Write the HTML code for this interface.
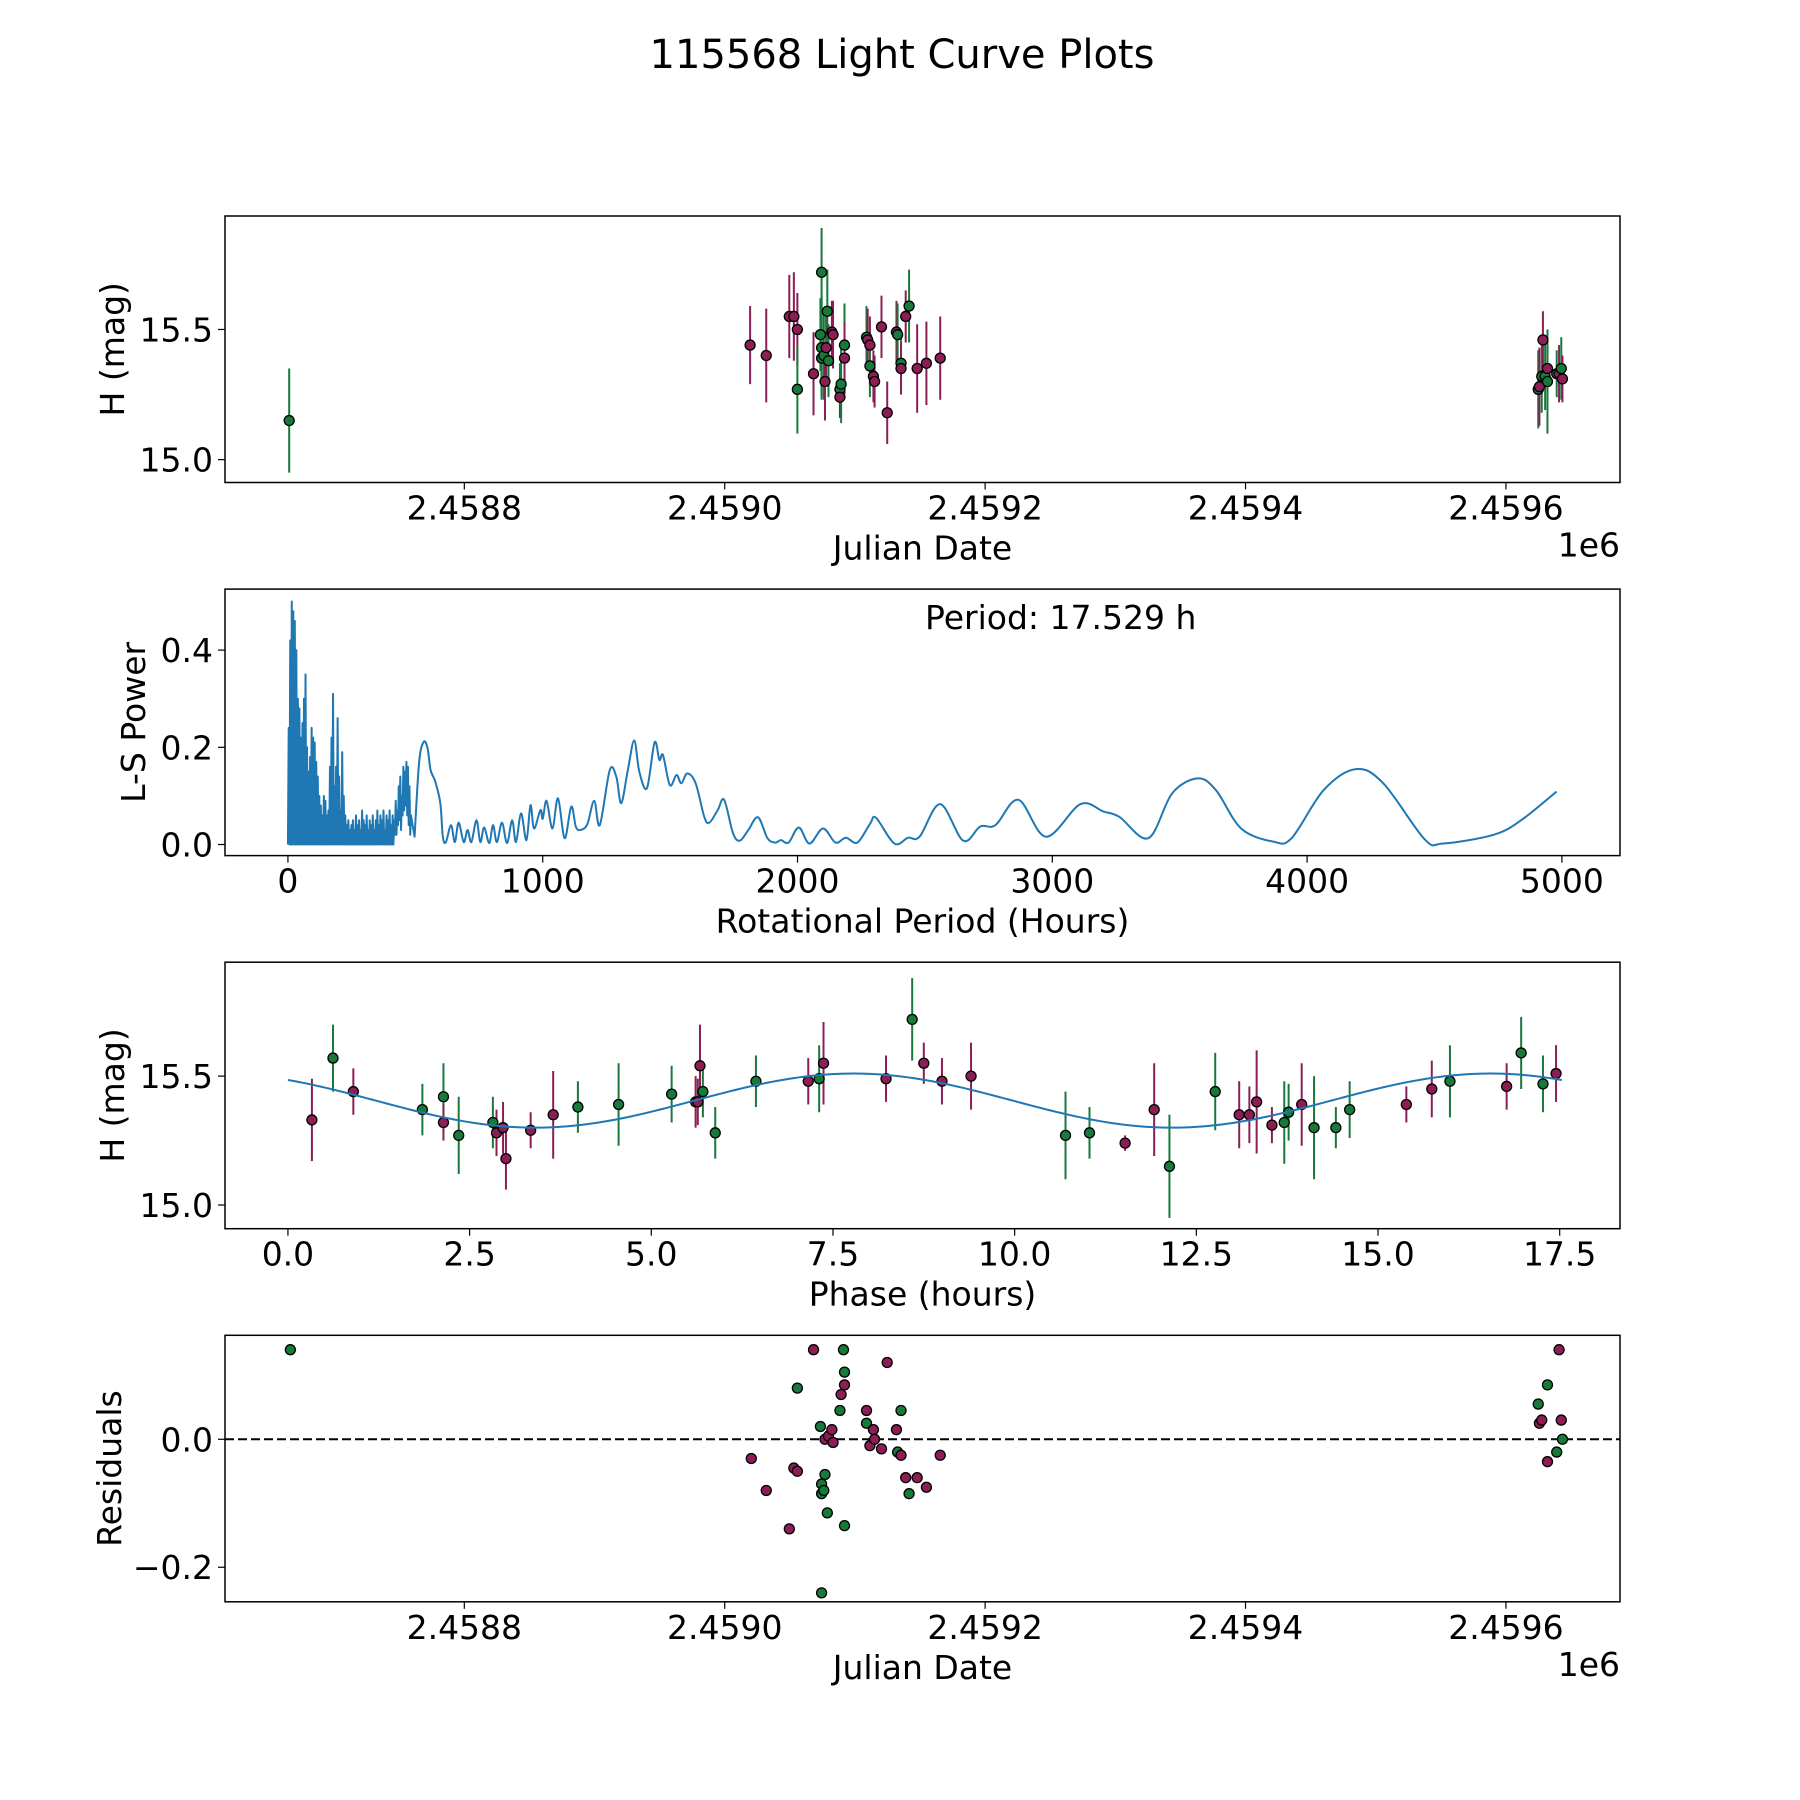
<!DOCTYPE html>
<html><head><meta charset="utf-8"><style>
html,body{margin:0;padding:0;background:#fff;}
svg{display:block;font-family:"DejaVu Sans","Liberation Sans",sans-serif;}
</style></head><body>
<svg id="fig" width="1800" height="1800" viewBox="0 0 1800 1800" xmlns="http://www.w3.org/2000/svg">
<rect width="1800" height="1800" fill="#fff"/>
<text x="902" y="68" font-size="40" text-anchor="middle">115568 Light Curve Plots</text>
</svg>
<script>
// ---------- DATA ----------
// Panel 1: observations (JD - 2458000)
const obsJD = [665.5,1019.5,1031.9,1049.6,1053.1,1055.8,1055.8,1068.2,1073.5,1074.4,1074.4,1074.4,1076.1,1077,1077.9,1078.8,1079.7,1082.3,1083.2,1088.5,1088.5,1089.4,1092,1092,1108.9,1109.8,1111.5,1111.5,1114.2,1115.1,1120.4,1124.8,1131.9,1132.8,1135.4,1135.4,1139,1141.6,1147.8,1154.9,1165.5,1624.8,1625.7,1627.5,1628.4,1630.1,1631.9,1631.9,1639,1640.8,1642.5,1643.4];
const obsMag = [15.15,15.44,15.40,15.55,15.55,15.50,15.27,15.33,15.48,15.72,15.43,15.39,15.40,15.30,15.43,15.57,15.38,15.49,15.48,15.27,15.24,15.29,15.44,15.39,15.47,15.46,15.44,15.36,15.32,15.30,15.51,15.18,15.49,15.48,15.37,15.35,15.55,15.59,15.35,15.37,15.39,15.27,15.28,15.32,15.46,15.32,15.35,15.30,15.33,15.33,15.35,15.31];
const obsErr = [0.2,0.15,0.18,0.16,0.17,0.14,0.17,0.16,0.14,0.17,0.2,0.15,0.17,0.15,0.13,0.16,0.14,0.12,0.13,0.1,0.08,0.15,0.16,0.14,0.12,0.12,0.11,0.12,0.1,0.1,0.12,0.12,0.12,0.12,0.1,0.1,0.1,0.14,0.17,0.16,0.16,0.15,0.15,0.14,0.11,0.13,0.12,0.2,0.09,0.11,0.12,0.09];
const obsBand = ["g","m","m","m","m","m","g","m","g","g","g","g","g","m","m","g","g","m","m","g","m","g","g","m","g","m","m","g","m","m","m","m","m","g","g","m","m","g","m","m","m","g","m","g","m","g","m","g","g","m","g","m"];

// Panel 2: periodogram
const denseStep = 6;
const denseHigh = [0.24,0.42,0.50,0.48,0.46,0.40,0.30,0.28,0.22,0.25,0.30,0.35,0.20,0.15,0.18,0.24,0.22,0.21,0.17,0.14,0.10,0.08,0.06,0.10,0.09,0.06,0.07,0.16,0.22,0.31,0.12,0.16,0.26,0.14,0.07,0.19,0.10,0.06,0.04,0.05,0.03,0.04,0.05,0.03,0.06,0.04,0.05,0.03,0.07,0.05,0.04,0.06,0.03,0.05,0.04,0.06,0.03,0.05,0.07,0.04,0.06,0.05,0.07,0.03,0.06,0.05,0.07,0.04,0.06,0.05,0.09,0.07,0.12,0.14,0.10,0.16,0.15,0.17,0.16,0.12,0.06];
const densePeriodLow = [0,0,0,0,0,0,0,0,0,0,0,0,0,0,0,0,0,0,0,0,0,0,0,0,0,0,0,0,0,0,0,0,0,0,0,0,0,0,0,0,0,0,0,0,0,0,0,0,0,0,0,0,0,0,0,0,0,0,0,0,0,0,0,0,0,0,0,0,0,0,0.02,0.02,0.04,0.05,0.03,0.06,0.07,0.08,0.06,0.04,0.02];
const smoothPeriod = [497,515,533,548,560,578,598,608,620,640,655,670,690,705,720,740,755,770,790,805,820,840,860,880,895,915,936,952,966,991,1000,1015,1038,1060,1086,1112,1131,1154,1176,1202,1224,1263,1289,1308,1334,1359,1379,1409,1439,1458,1472,1499,1525,1544,1567,1600,1634,1654,1687,1712,1747,1774,1807,1845,1882,1912,1935,1965,2005,2047,2100,2149,2190,2235,2285,2308,2380,2434,2479,2560,2650,2717,2777,2867,2975,3110,3200,3263,3377,3470,3570,3642,3741,3867,3939,4065,4191,4299,4461,4533,4732,4840,4979];
const smoothPower = [0.016,0.17,0.211,0.198,0.153,0.13,0.085,0.016,0.005,0.04,0.005,0.045,0.005,0.03,0.005,0.05,0.005,0.035,0.003,0.04,0.005,0.045,0.003,0.05,0.005,0.064,0.009,0.081,0.033,0.071,0.053,0.09,0.033,0.095,0.013,0.078,0.035,0.031,0.043,0.09,0.04,0.153,0.139,0.085,0.153,0.214,0.15,0.116,0.21,0.174,0.184,0.122,0.143,0.126,0.146,0.126,0.057,0.045,0.071,0.092,0.023,0.008,0.03,0.056,0.013,0.004,0.009,0.004,0.035,0.002,0.033,0.004,0.014,0.004,0.043,0.055,0.002,0.014,0.016,0.083,0.008,0.037,0.04,0.092,0.016,0.083,0.068,0.057,0.013,0.105,0.136,0.112,0.033,0.006,0.013,0.112,0.155,0.126,0.011,0.002,0.02,0.05,0.109];

// Panel 3: phased
const phaseVal = [0.33,0.62,0.9,1.85,2.14,2.14,2.35,2.82,2.87,2.96,3.0,3.34,3.65,3.99,4.55,5.28,5.61,5.64,5.67,5.71,5.88,6.44,7.16,7.31,7.37,8.23,8.59,8.75,9.0,9.4,10.7,11.03,11.52,11.92,12.13,12.76,13.09,13.23,13.33,13.54,13.71,13.77,13.95,14.12,14.42,14.61,15.39,15.74,15.99,16.77,16.97,17.27,17.45];
const phaseMag = [15.33,15.57,15.44,15.37,15.42,15.32,15.27,15.32,15.28,15.30,15.18,15.29,15.35,15.38,15.39,15.43,15.40,15.40,15.54,15.44,15.28,15.48,15.48,15.49,15.55,15.49,15.72,15.55,15.48,15.50,15.27,15.28,15.24,15.37,15.15,15.44,15.35,15.35,15.40,15.31,15.32,15.36,15.39,15.30,15.30,15.37,15.39,15.45,15.48,15.46,15.59,15.47,15.51];
const phaseErr = [0.16,0.13,0.09,0.1,0.13,0.07,0.15,0.1,0.09,0.1,0.12,0.07,0.17,0.1,0.16,0.11,0.1,0.09,0.16,0.1,0.1,0.1,0.09,0.13,0.16,0.09,0.16,0.08,0.09,0.13,0.17,0.1,0.03,0.18,0.2,0.15,0.13,0.11,0.2,0.07,0.16,0.11,0.16,0.2,0.08,0.11,0.07,0.11,0.14,0.09,0.14,0.11,0.11];
const phaseBand = ["m","g","m","g","g","m","g","g","m","m","m","m","m","g","g","g","m","m","m","g","g","g","m","g","m","m","g","m","m","m","g","g","m","m","g","g","m","m","m","m","g","g","m","g","g","g","m","m","g","m","g","g","m"];
const fitParams = [15.405, 0.105, 3.4, 8.7645]; // mean, amplitude, min phase, half period
const periodHours = [17.529];

// Panel 4: residuals
const resJD = [666.4,1020.4,1031.9,1049.6,1053.1,1055.8,1055.8,1068.2,1073.5,1074.4,1074.4,1074.4,1076.1,1077,1077,1078.8,1079.7,1082.3,1083.2,1088.5,1089.4,1091.2,1092,1092,1092,1108.9,1108.9,1111.5,1114.2,1115.1,1120.4,1124.8,1131.9,1132.8,1135.4,1135.4,1139,1141.6,1147.8,1154.9,1165.5,1624.8,1625.7,1627.5,1631.9,1631.9,1639,1640.8,1642.5,1643.4];
const resVal = [0.14,-0.03,-0.08,-0.14,-0.045,-0.05,0.08,0.14,0.02,-0.24,-0.07,-0.085,-0.08,-0.055,0.0,-0.115,0.005,0.015,-0.005,0.045,0.07,0.14,0.105,0.085,-0.135,0.045,0.025,-0.01,0.015,0.0,-0.015,0.12,0.015,-0.02,0.045,-0.025,-0.06,-0.085,-0.06,-0.075,-0.025,0.055,0.025,0.03,0.085,-0.035,-0.02,0.14,0.03,0.0];
const resBand = ["g","m","m","m","m","m","g","m","g","g","g","g","g","g","m","g","m","m","m","g","m","g","g","m","g","m","g","m","m","m","m","m","m","g","g","m","m","g","m","m","m","g","m","m","g","m","g","m","m","g"];

const jdTicks = [800,1000,1200,1400,1600];
const jdTickLabels = ["2.4588","2.4590","2.4592","2.4594","2.4596"];
const magTicks = [15.0,15.5];
const magTickLabels = ["15.0","15.5"];
const perTicks = [0,1000,2000,3000,4000,5000];
const perTickLabels = ["0","1000","2000","3000","4000","5000"];
const powTicks = [0,0.2,0.4];
const powTickLabels = ["0.0","0.2","0.4"];
const phTicks = [0,2.5,5,7.5,10,12.5,15,17.5];
const phTickLabels = ["0.0","2.5","5.0","7.5","10.0","12.5","15.0","17.5"];
const resTicks = [-0.2,0.0];
const resTickLabels = ["\u22120.2","0.0"];

// ---------- DRAW ----------
const NS="http://www.w3.org/2000/svg";
const fig=document.getElementById('fig');
const COL={g:"#177a3b",m:"#8b1e55"};
const L=225,R=1620;
const rows=[[216,482.5],[589.1,855.6],[962.2,1228.7],[1335.3,1601.8]];
function mk(tag,attrs,parent){const e=document.createElementNS(NS,tag);for(const k in attrs)e.setAttribute(k,attrs[k]);(parent||fig).appendChild(e);return e;}
function lin(d0,d1,p0,p1){return v=>p0+(v-d0)/(d1-d0)*(p1-p0);}

function axesFrame(i,name,xs,ys,xt,xtl,yt,ytl,xlabel,ylabel,ylabX,offsetText){
  const [T,B]=rows[i];
  const g=mk('g',{});
  
  
  xt.forEach((v,k)=>{const x=xs(v);
    const t=mk('line',{x1:x,x2:x,y1:B,y2:B+7,stroke:'#000','stroke-width':1.2},g);
    
    const tx=mk('text',{x:x,y:B+37,'font-size':33,'text-anchor':'middle'},g);tx.textContent=xtl[k];
    });
  yt.forEach((v,k)=>{const y=ys(v);
    const t=mk('line',{x1:L-7,x2:L,y1:y,y2:y,stroke:'#000','stroke-width':1.2},g);
    
    const tx=mk('text',{x:L-12,y:y+12,'font-size':33,'text-anchor':'end'},g);tx.textContent=ytl[k];
    });
  const xl=mk('text',{x:(L+R)/2,y:B+77,'font-size':33,'text-anchor':'middle'},g);xl.textContent=xlabel;
  
  const yc=(T+B)/2;
  const yl=mk('text',{x:ylabX,y:yc,'font-size':33,'text-anchor':'middle',transform:`rotate(-90 ${ylabX} ${yc})`},g);yl.textContent=ylabel;
  
  if(offsetText){const o=mk('text',{x:R,y:B+74,'font-size':33,'text-anchor':'end'},g);o.textContent=offsetText;
    }
  return g;
}
function border(i){const [T,B]=rows[i];const r=mk('rect',{x:L,y:T,width:R-L,height:B-T,fill:'none',stroke:'#000','stroke-width':1.5});
  }
function clip(i,id){const [T,B]=rows[i];const c=mk('clipPath',{id:id});mk('rect',{x:L,y:T,width:R-L,height:B-T},c);}

function errPoints(g,xs,ys,xv,yv,ev,bv){
  xv.forEach((v,k)=>{const x=xs(v);
    const e=mk('line',{x1:x,x2:x,y1:ys(yv[k]-ev[k]),y2:ys(yv[k]+ev[k]),stroke:COL[bv[k]],'stroke-width':2},g);
    });
  xv.forEach((v,k)=>{
    const c=mk('circle',{cx:xs(v),cy:ys(yv[k]),r:5,fill:COL[bv[k]],stroke:'#000','stroke-width':1.3},g);
    });
}

// Panel 1
const xJD=lin(616.2,1687.6,L,R);
const yMag1=lin(14.912,15.936,rows[0][1],rows[0][0]);
clip(0,'c0');
axesFrame(0,'light-curve-axes',xJD,yMag1,jdTicks,jdTickLabels,magTicks,magTickLabels,'Julian Date','H (mag)',124,'1e6');
const g1=mk('g',{'clip-path':'url(#c0)'});

errPoints(g1,xJD,yMag1,obsJD,obsMag,obsErr,obsBand);
border(0);

// Panel 2
const xPer=lin(-247,5228,L,R);
const yPow=lin(-0.0228,0.5255,rows[1][1],rows[1][0]);
clip(1,'c1');
axesFrame(1,'periodogram-axes',xPer,yPow,perTicks,perTickLabels,powTicks,powTickLabels,'Rotational Period (Hours)','L-S Power',145,null);
let d='';
denseHigh.forEach((h,k)=>{const p=k*denseStep;
  d+=(k?'L':'M')+xPer(p).toFixed(2)+','+yPow(densePeriodLow[k]).toFixed(2);
  d+='L'+xPer(p+denseStep/2).toFixed(2)+','+yPow(h).toFixed(2);});
const sp=smoothPeriod.map((p,k)=>[xPer(p),yPow(smoothPower[k])]);
for(let k=0;k<sp.length;k++){
  if(k===0){d+='L'+sp[0][0].toFixed(2)+','+sp[0][1].toFixed(2);continue;}
  const p0=sp[Math.max(k-2,0)],p1=sp[k-1],p2=sp[k],p3=sp[Math.min(k+1,sp.length-1)];
  const c1=[p1[0]+(p2[0]-p0[0])/6,p1[1]+(p2[1]-p0[1])/6],c2=[p2[0]-(p3[0]-p1[0])/6,p2[1]-(p3[1]-p1[1])/6];
  d+=`C${c1[0].toFixed(2)},${c1[1].toFixed(2)} ${c2[0].toFixed(2)},${c2[1].toFixed(2)} ${p2[0].toFixed(2)},${p2[1].toFixed(2)}`;
}
const pl=mk('path',{d:d,fill:'none',stroke:'#1f77b4','stroke-width':2,'stroke-linejoin':'round','clip-path':'url(#c1)'});

const pt=mk('text',{x:925,y:629,'font-size':33});pt.textContent='Period: '+periodHours[0].toFixed(3)+' h';

border(1);

// Panel 3
const xPh=lin(-0.866,18.33,L,R);
const yMag3=lin(14.908,15.942,rows[2][1],rows[2][0]);
clip(2,'c2');
axesFrame(2,'phase-curve-axes',xPh,yMag3,phTicks,phTickLabels,magTicks,magTickLabels,'Phase (hours)','H (mag)',124,null);
const g3=mk('g',{'clip-path':'url(#c2)'});

errPoints(g3,xPh,yMag3,phaseVal,phaseMag,phaseErr,phaseBand);
let fd='';
for(let k=0;k<=350;k++){const t=periodHours[0]*k/350;
  const m=fitParams[0]-fitParams[1]*Math.cos(2*Math.PI*(t-fitParams[2])/fitParams[3]);
  fd+=(k?'L':'M')+xPh(t).toFixed(2)+','+yMag3(m).toFixed(2);}
const fl=mk('path',{d:fd,fill:'none',stroke:'#1f77b4','stroke-width':2},g3);

border(2);

// Panel 4
const yRes=lin(-0.254,0.1625,rows[3][1],rows[3][0]);
clip(3,'c3');
axesFrame(3,'residuals-axes',xJD,yRes,jdTicks,jdTickLabels,resTicks,resTickLabels,'Julian Date','Residuals',121,'1e6');
const zl=mk('line',{x1:L,x2:R,y1:yRes(0),y2:yRes(0),stroke:'#000','stroke-width':2,'stroke-dasharray':'9,4'});

const g4=mk('g',{'clip-path':'url(#c3)'});

resJD.forEach((v,k)=>{const c=mk('circle',{cx:xJD(v),cy:yRes(resVal[k]),r:5,fill:COL[resBand[k]],stroke:'#000','stroke-width':1.3},g4);
  });
border(3);
</script>
</body></html>
